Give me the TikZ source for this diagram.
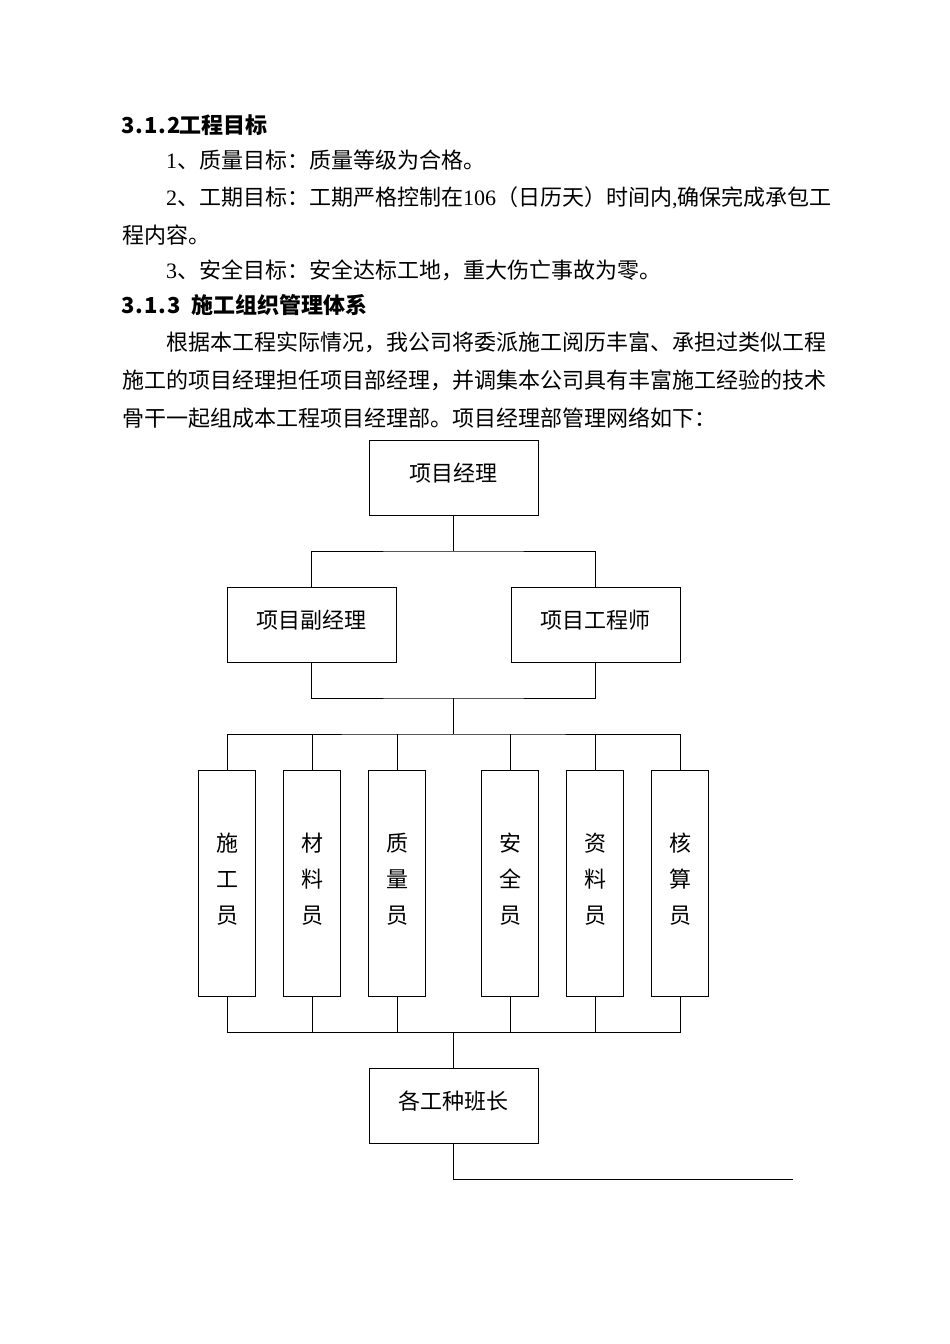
\documentclass[tikz,border=0pt]{standalone}
\usepackage{fontspec}
\setmainfont{Liberation Serif}
\newfontfamily\cjk{Noto Sans CJK SC}
\usetikzlibrary{positioning}
\newcommand{\hc}[1]{\makebox[11.5pt]{#1}}
\newcommand{\lat}[1]{{\rmfamily #1}}
\tikzset{
  txt/.style={anchor=base west, inner sep=0pt, font=\cjk\fontsize{22}{22}\selectfont},
  wire/.style={line width=0.8pt},
  box/.style={draw, line width=0.8pt, minimum width=169pt, minimum height=75pt, inner sep=0pt,
              font=\cjk\fontsize{22}{22}\selectfont, text height=16pt, text depth=9pt},
  tallbox/.style={draw, line width=0.8pt, minimum width=57pt, minimum height=226pt, inner sep=0pt,
              align=center, font=\cjk\fontsize{22}{36}\selectfont, text depth=10pt}
}
\begin{document}
\begin{tikzpicture}[x=1pt, y=-1pt]
\useasboundingbox (0,0) rectangle (950,1344);
% text above the chart
\node[txt] (h1) at (122,133) {\bfseries\hc{3}\hc{.}\hc{1}\hc{.}\hc{2}工程目标};
\node[txt] (p1) at (166,168) {\lat{1}、质量目标：质量等级为合格。};
\node[txt] (p2) at (166,205) {\lat{2}、工期目标：工期严格控制在\lat{106}（日历天）时间内\lat{,}确保完成承包工};
\node[txt] (p3) at (122,243) {程内容。};
\node[txt] (p4) at (166,278) {\lat{3}、安全目标：安全达标工地，重大伤亡事故为零。};
\node[txt] (h2) at (122,313) {\bfseries\hc{3}\hc{.}\hc{1}\hc{.}\hc{3}\hc{}施工组织管理体系};
\node[txt] (p5) at (166,350) {根据本工程实际情况，我公司将委派施工阅历丰富、承担过类似工程};
\node[txt] (p6) at (122,388) {施工的项目经理担任项目部经理，并调集本公司具有丰富施工经验的技术};
\node[txt] (p7) at (122,426) {骨干一起组成本工程项目经理部。项目经理部管理网络如下：};
% chart
\node[box] (pm) at (453.5,477.5) {项目经理};
\node[box] (dep) at (311.5,625) {项目副经理};
\node[box] (eng) at (595.5,625) {项目工程师};
\foreach \k/\x/\t in {1/227/施\\工\\员, 2/312/材\\料\\员, 3/397/质\\量\\员, 4/510/安\\全\\员, 5/595/资\\料\\员, 6/680/核\\算\\员}
  \node[tallbox] (s\k) at (\x,883) {\t};
\node[box] (team) at (453.5,1105.5) {各工种班长};
\coordinate (busA) at (453.5,551);
\coordinate (busB) at (453.5,698);
\coordinate (busC) at (453.5,734);
\coordinate (busD) at (453.5,1032);
\coordinate (tail) at (793,1179);
\draw[wire] (pm.south) -- (busA);
\draw[wire] (dep.north) |- (busA) -| (eng.north);
\draw[wire] (dep.south) |- (busB) -| (eng.south);
\draw[wire] (busB) -- (busC);
\draw[wire] (s1.north) |- (busC) -| (s6.north);
\foreach \k in {2,...,5} \draw[wire] (s\k.north) -- (s\k.north |- busC);
\draw[wire] (s1.south) |- (busD) -| (s6.south);
\foreach \k in {2,...,5} \draw[wire] (s\k.south) -- (s\k.south |- busD);
\draw[wire] (busD) -- (team.north);
\draw[wire] (team.south) |- (tail);
\end{tikzpicture}
\end{document}
